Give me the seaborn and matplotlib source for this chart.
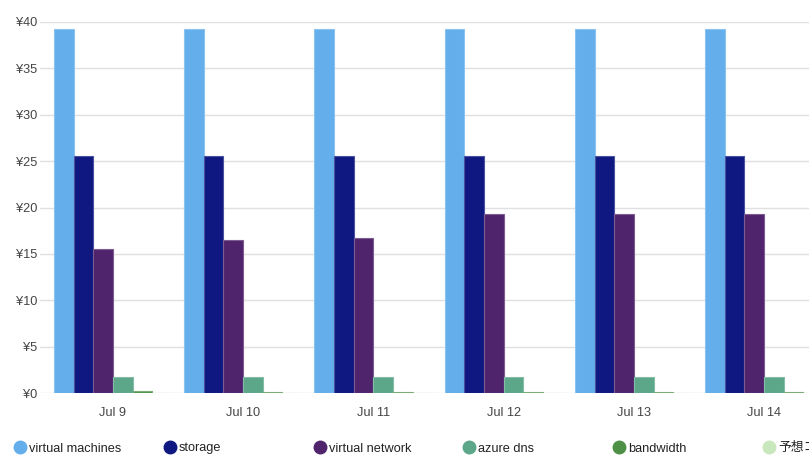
import matplotlib
matplotlib.use("Agg")
import matplotlib.pyplot as plt
import matplotlib.colors as mcolors
from matplotlib.lines import Line2D
import seaborn as sns
import pandas as pd
import numpy as np

dates = ["Jul 9", "Jul 10", "Jul 11", "Jul 12", "Jul 13", "Jul 14"]
series = ["virtual machines", "storage", "virtual network", "azure dns", "bandwidth", "予想コスト"]
vm = [39.2, 39.2, 39.2, 39.2, 39.2, 39.2]
storage = [25.5, 25.5, 25.5, 25.5, 25.5, 25.5]
vnet = [15.5, 16.5, 16.7, 19.3, 19.3, 19.3]
dns = [1.75, 1.75, 1.75, 1.75, 1.75, 1.75]
bandwidth = [0.2, 0.1, 0.1, 0.1, 0.1, 0.1]
forecast = [0.05, 0.05, 0.05, 0.05, 0.05, 0.05]
colors = ["#63AEEB", "#0E1880", "#50246C", "#5CA68A", "#4E9146", "#C9E7BD"]
yticks = [0, 5, 10, 15, 20, 25, 30, 35, 40]

values = [vm, storage, vnet, dns, bandwidth, forecast]
rows = []
for s, vals in zip(series, values):
    for d, v in zip(dates, vals):
        rows.append({"date": d, "series": s, "cost": v})
df = pd.DataFrame(rows)

sns.set_style("white")
plt.rcParams["font.family"] = ["Liberation Sans", "Noto Sans CJK JP", "DejaVu Sans"]

fig = plt.figure(figsize=(8.09, 4.63), dpi=100)
ax = fig.add_axes([40 / 809, 1 - 393 / 463, 1 - 40 / 809, (393 - 22) / 463])

sns.barplot(data=df, x="date", y="cost", hue="series", order=dates, hue_order=series,
            palette=colors, width=0.906, gap=0, ax=ax, legend=False, errorbar=None,
            saturation=1)

for cont, c in zip(ax.containers, colors):
    light = mcolors.to_rgb(c)
    light = tuple(1 - (1 - x) * 0.75 for x in light)
    for p in cont:
        p.set_edgecolor(light)
        p.set_linewidth(0.8)

ax.set_xlim(-0.56, 5.345)
ax.set_ylim(0, 40)
ax.set_yticks(yticks)
ax.set_yticklabels([f"¥{t}" for t in yticks])
ax.yaxis.grid(True, color="#e0e0e0", linewidth=1)
ax.set_axisbelow(True)
for sp in ax.spines.values():
    sp.set_visible(False)
ax.set_xlabel("")
ax.set_ylabel("")
ax.tick_params(axis="both", length=0, labelsize=9.2, colors="#444444")
ax.tick_params(axis="x", pad=10)
ax.tick_params(axis="y", pad=2)

for i, (s, c) in enumerate(zip(series, colors)):
    h = Line2D([0], [0], marker="o", linestyle="none", markersize=9,
               markerfacecolor=c, markeredgecolor=c)
    fig.legend(handles=[h], labels=[s], loc="center left",
               bbox_to_anchor=((14 + 149.7 * i) / 809, 1 - 448.5 / 463),
               frameon=False, borderpad=0, borderaxespad=0, handlelength=1.0,
               handletextpad=0.2, fontsize=9.2, labelcolor="#222222")

fig.savefig("out.png", dpi=100)
